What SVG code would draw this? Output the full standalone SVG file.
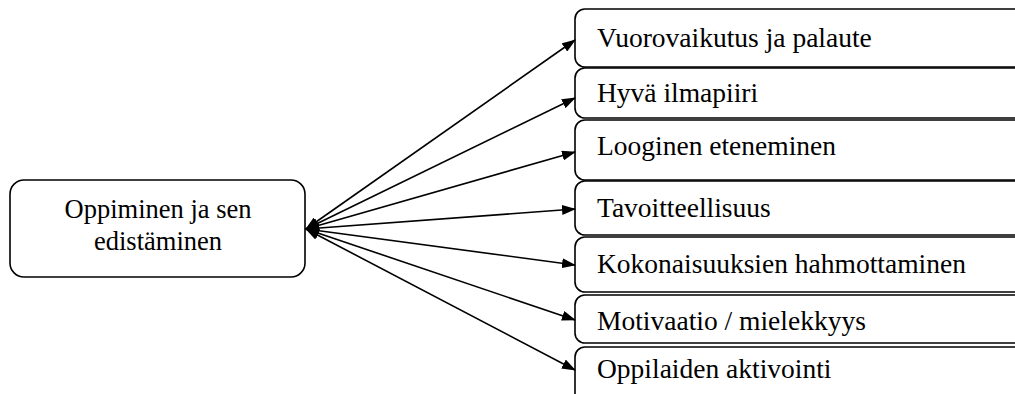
<svg xmlns="http://www.w3.org/2000/svg" width="1015" height="394" viewBox="0 0 1015 394">
<style>
.box{fill:#fff;stroke:#000;stroke-width:1.6}
.c{fill:none;stroke:#000;stroke-width:1.6}
.t{font-family:'Liberation Serif','Times New Roman',serif;font-size:27.5px;fill:#000}
.tc{font-family:'Liberation Serif','Times New Roman',serif;font-size:26.5px;fill:#000;text-anchor:middle}
</style>
<defs>
<marker id="ah" markerWidth="14" markerHeight="10" refX="13" refY="5" orient="auto-start-reverse" markerUnits="userSpaceOnUse">
<path d="M0,0 L14,5 L0,10 Z" fill="#000"/>
</marker>
</defs>
<rect width="1015" height="394" fill="#fff"/>
<g id="n0"><rect class="box" x="10" y="180" width="295" height="97" rx="14"/>
<text class="tc" x="158" y="218">Oppiminen ja sen</text>
<text class="tc" x="158" y="250">edistäminen</text></g>
<g id="n1"><rect class="box" x="575" y="9" width="460" height="58" rx="10"/><text class="t" x="597" y="47">Vuorovaikutus ja palaute</text></g>
<g id="n2"><rect class="box" x="575" y="68" width="460" height="50" rx="10"/><text class="t" x="597" y="102">Hyvä ilmapiiri</text></g>
<g id="n3"><rect class="box" x="575" y="120" width="460" height="60" rx="10"/><text class="t" x="597" y="155">Looginen eteneminen</text></g>
<g id="n4"><rect class="box" x="575" y="181" width="460" height="54" rx="10"/><text class="t" x="597" y="217">Tavoitteellisuus</text></g>
<g id="n5"><rect class="box" x="575" y="237" width="460" height="55" rx="10"/><text class="t" x="597" y="273">Kokonaisuuksien hahmottaminen</text></g>
<g id="n6"><rect class="box" x="575" y="295" width="460" height="48" rx="10"/><text class="t" x="597" y="330">Motivaatio / mielekkyys</text></g>
<g id="n7"><rect class="box" x="575" y="347" width="460" height="60" rx="10"/><text class="t" x="597" y="378">Oppilaiden aktivointi</text></g>
<g id="connectors">
<line class="c" x1="306" y1="229" x2="575" y2="40" marker-start="url(#ah)" marker-end="url(#ah)"/>
<line class="c" x1="306" y1="229" x2="575" y2="98" marker-start="url(#ah)" marker-end="url(#ah)"/>
<line class="c" x1="306" y1="229" x2="575" y2="152" marker-start="url(#ah)" marker-end="url(#ah)"/>
<line class="c" x1="306" y1="229" x2="575" y2="209" marker-start="url(#ah)" marker-end="url(#ah)"/>
<line class="c" x1="306" y1="229" x2="575" y2="265" marker-start="url(#ah)" marker-end="url(#ah)"/>
<line class="c" x1="306" y1="229" x2="575" y2="320" marker-start="url(#ah)" marker-end="url(#ah)"/>
<line class="c" x1="306" y1="229" x2="575" y2="370" marker-start="url(#ah)" marker-end="url(#ah)"/>
</g>
</svg>
